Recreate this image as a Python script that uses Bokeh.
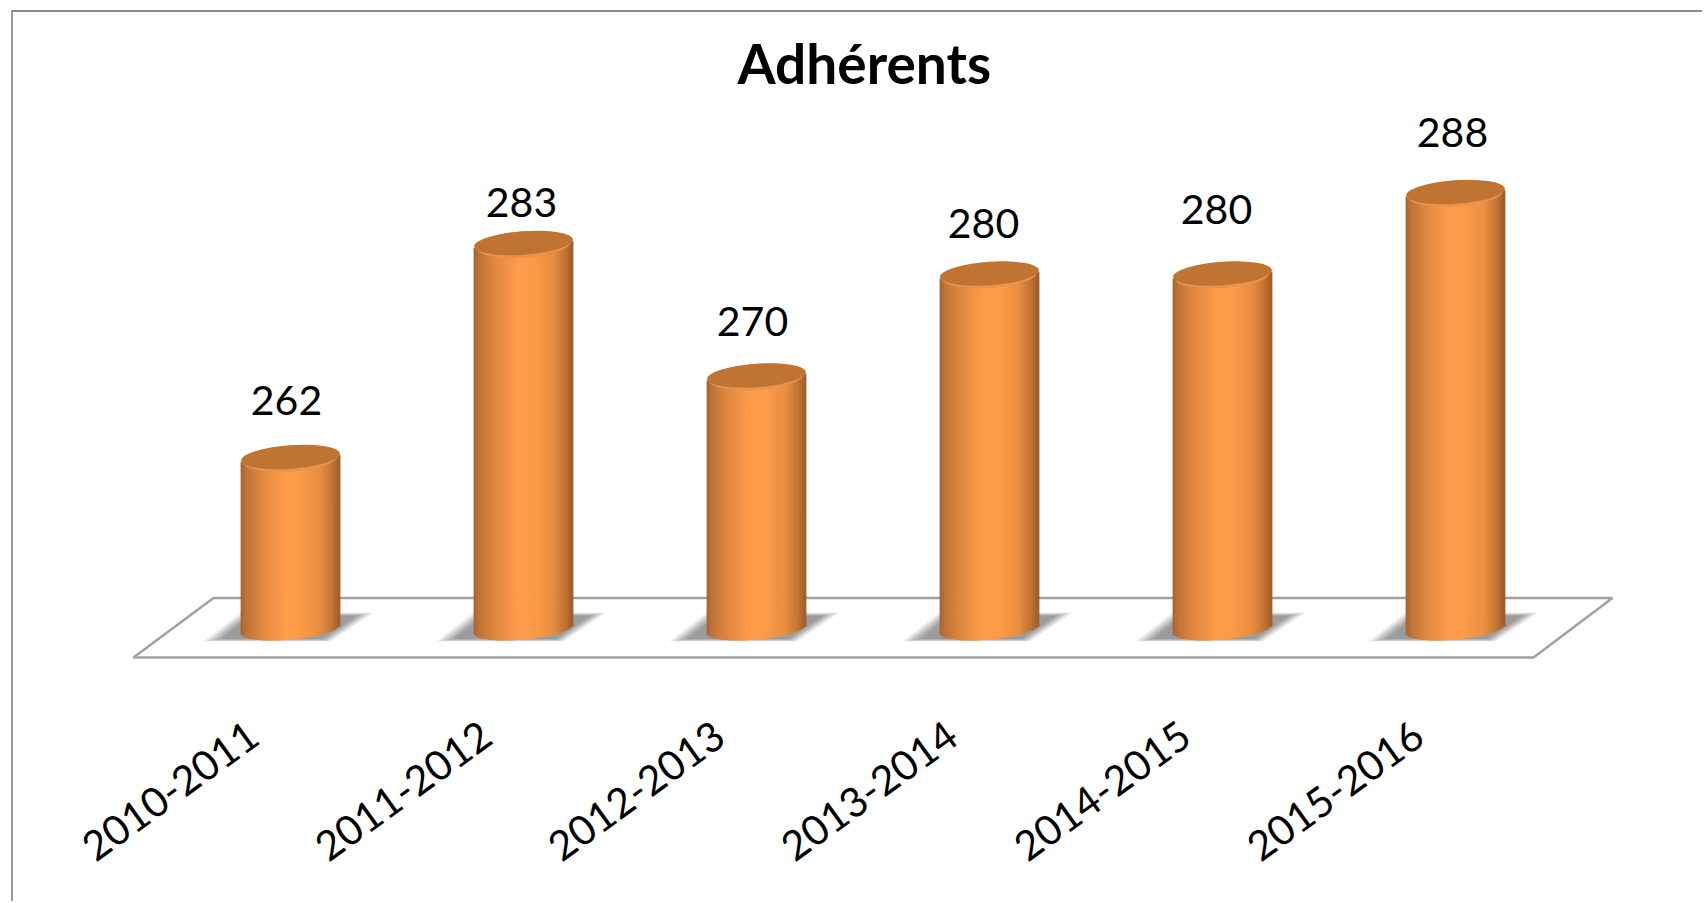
import math
from bokeh.plotting import figure
from bokeh.models import ColumnDataSource, FixedTicker, Range1d
from bokeh.core.properties import value
from bokeh.embed import file_html
from bokeh.resources import INLINE

# ---- chart data
title_text = "Adhérents"
seasons = ["2010-2011", "2011-2012", "2012-2013", "2013-2014", "2014-2015", "2015-2016"]
members = [262, 283, 270, 280, 280, 288]
axis_floor = 245.3

# ---- layout (page pixels)
FONT = "Lato"
PL, PT, PR, PB = 13, 96, 1704, 670
PAGE_B = 903
STEP = 233.0            # px between bars
X0 = 290.0              # page x of the first bar
PX_PER_UNIT = 10.19     # px per member
REF_Y = 458.0           # page y of value 262
BAR_W = 99.0

def dx(px):
    return px / STEP

def val_at(py):
    return 262 + (REF_Y - py) / PX_PER_UNIT

def idx_at(px):
    return (px - X0) / STEP

p = figure(
    width=PR - PL, height=PAGE_B - 12, toolbar_location=None, output_backend="svg",
    x_range=Range1d(idx_at(PL), idx_at(PR)), y_range=Range1d(val_at(PB), val_at(PT)),
    y_axis_location=None, min_border_left=0, min_border_right=0,
    min_border_top=PT - 12, min_border_bottom=PAGE_B - PB,
    background_fill_color="white", border_fill_color="white",
    styles={"margin-left": "11px", "margin-top": "10px",
            "border-left": "2px solid #9a9a9a", "border-top": "2px solid #8c8c8c"},
)
p.grid.visible = False
p.outline_line_color = None

# title
p.title.text = title_text
p.title.text_font = FONT
p.title.text_font_size = "55px"
p.title.text_font_style = "bold"
p.title.text_color = "black"
p.title.align = "left"
p.title.offset = 724
p.title.standoff = 2

# category axis: labels end up-right, just left of each bar
LABEL_SHIFT = -37 / STEP
ticks = [i + LABEL_SHIFT for i in range(len(seasons))]
ax = p.xaxis[0]
ax.ticker = FixedTicker(ticks=ticks)
ax.major_label_overrides = {t: s for t, s in zip(ticks, seasons)}
ax.major_label_orientation = math.radians(36)
ax.major_label_text_font = FONT
ax.major_label_text_font_size = "41px"
ax.major_label_text_color = "black"
ax.major_label_standoff = 54
ax.axis_line_color = None
ax.major_tick_line_color = None
ax.minor_tick_line_color = None

# floor
floor_x = [idx_at(213), idx_at(1612), idx_at(1533), idx_at(133)]
floor_y = [val_at(597.5), val_at(597.5), val_at(657), val_at(657)]
p.patch(floor_x, floor_y, fill_color="white", line_color="#a0a0a0", line_width=2.4)

# soft shadows
shape = [(-87, 13), (-50, -16), (83, -16), (40, 13)]
layers = [(1.0, 0.12), (0.96, 0.14), (0.92, 0.16), (0.88, 0.18), (0.84, 0.20), (0.80, 0.22)]
sx, sy, sa = [], [], []
for i in range(len(seasons)):
    for scale, alpha in layers:
        sx.append([i + dx(a * scale) for a, b in shape])
        sy.append([val_at(628 + b * scale) for a, b in shape])
        sa.append(alpha)
p.patches(xs="xs", ys="ys", fill_alpha="a", fill_color="#6e6e6e", line_color=None,
          source=ColumnDataSource(dict(xs=sx, ys=sy, a=sa)))

# cylinder walls: narrow vertical strips through the scales
stops = [(0.0, (164, 98, 46)), (0.05, (190, 114, 56)), (0.2, (220, 134, 62)),
         (0.45, (254, 157, 75)), (0.6, (251, 155, 72)), (0.8, (232, 141, 65)),
         (0.93, (190, 114, 50)), (1.0, (156, 90, 40))]

def shade(t):
    for (t0, c0), (t1, c1) in zip(stops, stops[1:]):
        if t <= t1:
            f = (t - t0) / (t1 - t0)
            return "#%02x%02x%02x" % tuple(round(a + (b - a) * f) for a, b in zip(c0, c1))
    return "#9c5a28"

N = 44
sw = BAR_W / N
cols = dict(x=[], top=[], bottom=[], color=[])
for i, v in enumerate(members):
    for k in range(N):
        off = -BAR_W / 2 + sw * (k + 0.5)
        low = 11 * math.sqrt(max(0, 1 - (2 * off / BAR_W) ** 2))
        cols["x"].append(i + dx(off))
        cols["top"].append(v + 0.07 * off / PX_PER_UNIT)
        cols["bottom"].append(axis_floor + (0.09 * off - low) / PX_PER_UNIT)
        cols["color"].append(shade((k + 0.5) / N))
p.vbar(x="x", top="top", bottom="bottom", width=dx(sw * 1.35), fill_color="color",
       line_color=None, source=ColumnDataSource(cols))

# cylinder caps
xs = list(range(len(seasons)))
tilt = math.atan(0.07)
p.ellipse(x=xs, y=members, width=BAR_W - 3, height=26, width_units="screen", height_units="screen",
          angle=tilt, fill_color="#e8934b", line_color=None)
p.ellipse(x=xs, y=[v + 1.5 / PX_PER_UNIT for v in members], width=BAR_W, height=23.5,
          width_units="screen", height_units="screen", angle=tilt,
          fill_color="#bf7434", line_color=None)

# value labels
label_dx = [-4, -2, -4, -6, -6, -3]
label_dy = [-58, -42, -55, -52, -66, -61]
p.text(x="x", y="y", text="t", x_offset="ox", y_offset="oy",
       source=ColumnDataSource(dict(x=xs, y=members, t=[str(v) for v in members],
                                    ox=label_dx, oy=label_dy)),
       text_align="center", text_baseline="middle", text_font=value(FONT),
       text_font_size="41px", text_color="black")

open("out.html", "w").write(file_html(p, INLINE))
